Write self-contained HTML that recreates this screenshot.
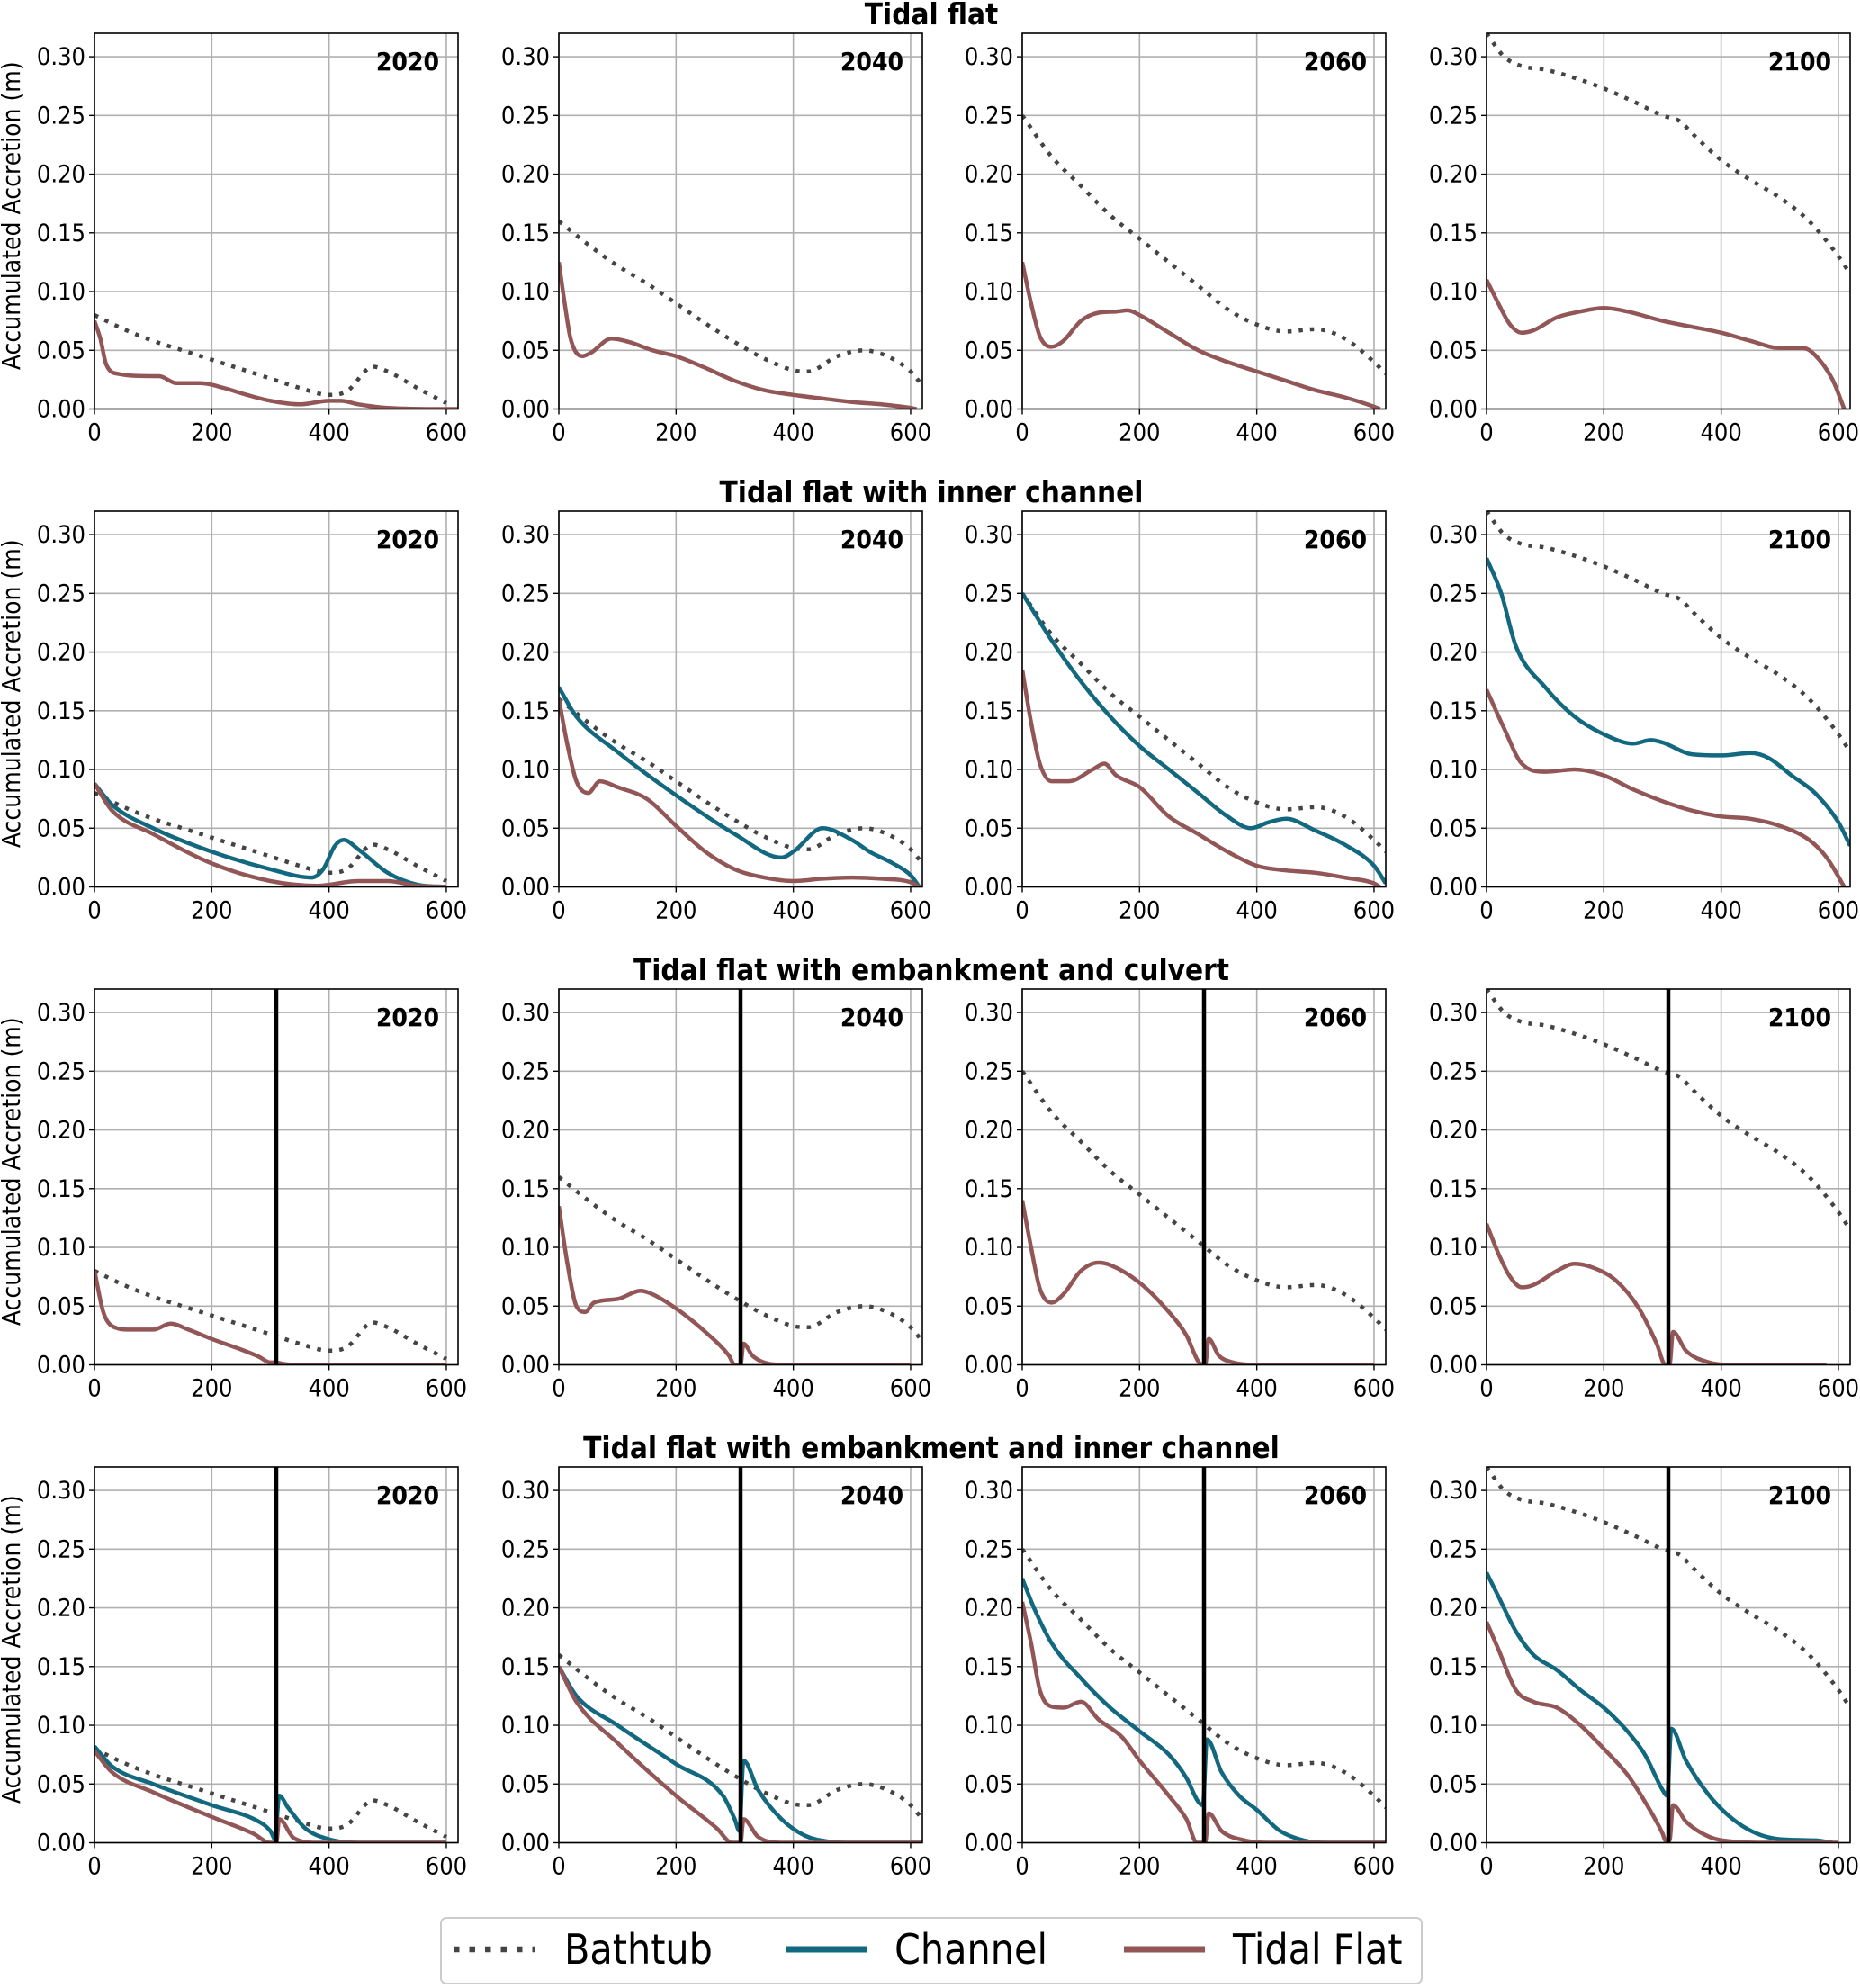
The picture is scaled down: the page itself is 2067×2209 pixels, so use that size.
<!DOCTYPE html>
<html><head><meta charset="utf-8">
<style>
html,body{margin:0;padding:0;background:#fff;}
svg{display:block;}
text{font-family:"DejaVu Sans Condensed","Liberation Sans Narrow","DejaVu Sans","Liberation Sans",sans-serif;}
</style></head>
<body>
<svg id="fig" width="2067" height="2209" viewBox="0 0 2067 2209" xmlns="http://www.w3.org/2000/svg"></svg>
<script>
// ---- data ----
const years = ["2020","2040","2060","2100"];
const rowTitles = ["Tidal flat","Tidal flat with inner channel","Tidal flat with embankment and culvert","Tidal flat with embankment and inner channel"];
const yTicks = [0,0.05,0.10,0.15,0.20,0.25,0.30];
const yTickLabels = ["0.00","0.05","0.10","0.15","0.20","0.25","0.30"];
const xTicks = [0,200,400,600];
const xTickLabels = ["0","200","400","600"];
const embankmentX = 310;

const bath2020 = [[0,0.08],[50,0.068],[100,0.058],[150,0.05],[200,0.042],[250,0.034],[300,0.026],[350,0.018],[400,0.012],[430,0.015],[475,0.036],[500,0.032],[550,0.018],[600,0.005]];
const bath2040 = [[0,0.16],[50,0.14],[100,0.122],[150,0.107],[200,0.09],[250,0.073],[300,0.057],[350,0.043],[400,0.033],[425,0.032],[475,0.045],[520,0.05],[560,0.045],[600,0.032],[620,0.02]];
const bath2060 = [[0,0.25],[50,0.215],[100,0.19],[150,0.165],[200,0.145],[250,0.125],[300,0.105],[350,0.085],[400,0.072],[450,0.066],[500,0.068],[550,0.06],[600,0.04],[620,0.03]];
const bath2100 = [[0,0.32],[30,0.3],[60,0.292],[100,0.289],[150,0.282],[200,0.273],[250,0.262],[300,0.25],[330,0.245],[350,0.235],[400,0.212],[450,0.195],[500,0.18],[550,0.16],[600,0.13],[620,0.115]];

const r1tf2020 = [[0,0.075],[10,0.06],[20,0.038],[40,0.03],[100,0.028],[110,0.028],[140,0.022],[180,0.022],[220,0.018],[260,0.012],[300,0.007],[350,0.004],[400,0.007],[420,0.007],[450,0.004],[500,0.001],[600,0],[620,0]];
const r1tf2040 = [[0,0.125],[10,0.09],[20,0.06],[40,0.045],[55,0.048],[90,0.06],[120,0.057],[160,0.05],[200,0.045],[250,0.035],[300,0.024],[350,0.016],[400,0.012],[450,0.009],[500,0.006],[550,0.004],[600,0.001],[610,0]];
const r1tf2060 = [[0,0.125],[15,0.09],[30,0.062],[50,0.053],[70,0.058],[100,0.075],[130,0.082],[160,0.083],[180,0.084],[200,0.08],[250,0.065],[300,0.05],[350,0.04],[400,0.032],[450,0.024],[500,0.016],[550,0.01],[600,0.002],[610,0]];
const r1tf2100 = [[0,0.11],[20,0.09],[40,0.072],[60,0.065],[80,0.067],[120,0.078],[160,0.083],[200,0.086],[240,0.083],[300,0.075],[350,0.07],[400,0.065],[450,0.058],[500,0.052],[540,0.052],[560,0.046],[590,0.025],[610,0]];

const r2ch2020 = [[0,0.088],[30,0.07],[100,0.05],[200,0.03],[300,0.015],[370,0.008],[390,0.015],[410,0.035],[425,0.04],[450,0.032],[500,0.012],[550,0.002],[600,0]];
const r2tf2020 = [[0,0.088],[30,0.065],[100,0.045],[200,0.02],[300,0.005],[380,0.001],[450,0.005],[500,0.005],[550,0.001],[600,0]];
const r2ch2040 = [[0,0.17],[30,0.145],[100,0.115],[200,0.078],[300,0.045],[380,0.025],[400,0.03],[450,0.05],[500,0.04],[530,0.03],[570,0.02],[600,0.01],[615,0]];
const r2tf2040 = [[0,0.16],[15,0.12],[30,0.09],[50,0.08],[70,0.09],[100,0.085],[150,0.075],[200,0.052],[250,0.03],[300,0.015],[350,0.008],[400,0.005],[450,0.007],[500,0.008],[550,0.007],[600,0.004],[615,0]];
const r2ch2060 = [[0,0.25],[50,0.21],[100,0.175],[150,0.145],[200,0.12],[250,0.1],[300,0.08],[350,0.06],[390,0.05],[420,0.055],[450,0.058],[500,0.048],[550,0.036],[600,0.018],[620,0.003]];
const r2tf2060 = [[0,0.185],[15,0.14],[30,0.105],[50,0.09],[80,0.09],[120,0.1],[140,0.105],[160,0.095],[200,0.085],[250,0.06],[300,0.045],[350,0.03],[400,0.018],[450,0.014],[500,0.012],[550,0.008],[600,0.003],[610,0]];
const r2ch2100 = [[0,0.28],[25,0.25],[50,0.205],[100,0.17],[150,0.145],[200,0.13],[250,0.122],[280,0.125],[300,0.123],[350,0.113],[400,0.112],[450,0.114],[480,0.11],[520,0.095],[560,0.08],[600,0.055],[620,0.035]];
const r2tf2100 = [[0,0.168],[30,0.135],[60,0.105],[100,0.098],[150,0.1],[200,0.095],[250,0.083],[300,0.073],[350,0.065],[400,0.06],[450,0.058],[500,0.052],[550,0.04],[580,0.025],[610,0]];

const r3tf2020 = [[0,0.08],[15,0.045],[30,0.033],[60,0.03],[100,0.03],[130,0.035],[160,0.03],[200,0.022],[250,0.013],[280,0.007],[300,0.002],[310,0.002],[320,0.001],[340,0],[600,0]];
const r3tf2040 = [[0,0.135],[15,0.085],[30,0.05],[45,0.045],[60,0.053],[100,0.056],[140,0.063],[160,0.06],[200,0.048],[250,0.028],[290,0.008],[300,0],[310,0],[315,0.018],[330,0.008],[350,0.002],[380,0],[600,0]];
const r3tf2060 = [[0,0.14],[15,0.1],[30,0.065],[50,0.053],[70,0.06],[100,0.08],[130,0.087],[150,0.085],[200,0.07],[250,0.045],[280,0.025],[300,0.003],[308,0],[312,0],[318,0.022],[335,0.008],[360,0.002],[400,0],[600,0]];
const r3tf2100 = [[0,0.12],[20,0.095],[40,0.075],[60,0.066],[80,0.068],[120,0.08],[150,0.086],[180,0.083],[220,0.072],[260,0.048],[290,0.018],[305,0],[312,0],[318,0.028],[340,0.012],[380,0.002],[420,0],[580,0]];

const r4ch2020 = [[0,0.082],[30,0.065],[100,0.05],[200,0.032],[280,0.018],[300,0.01],[308,0.003],[315,0.04],[330,0.03],[360,0.012],[400,0.003],[450,0],[600,0]];
const r4tf2020 = [[0,0.078],[30,0.06],[100,0.043],[200,0.022],[270,0.008],[300,0],[310,0],[315,0.02],[340,0.004],[380,0],[600,0]];
const r4ch2040 = [[0,0.15],[30,0.125],[100,0.1],[200,0.067],[280,0.04],[300,0.02],[308,0.01],[315,0.07],[340,0.045],[380,0.02],[420,0.006],[460,0.001],[500,0],[620,0]];
const r4tf2040 = [[0,0.15],[30,0.12],[100,0.085],[200,0.04],[270,0.012],[295,0],[310,0],[315,0.02],[340,0.005],[380,0],[620,0]];
const r4ch2060 = [[0,0.225],[20,0.2],[50,0.17],[100,0.14],[150,0.115],[200,0.095],[250,0.075],[280,0.055],[300,0.035],[308,0.032],[315,0.088],[340,0.06],[370,0.04],[400,0.028],[440,0.01],[480,0.002],[520,0],[620,0]];
const r4tf2060 = [[0,0.205],[15,0.17],[30,0.13],[50,0.116],[70,0.115],[100,0.12],[130,0.105],[170,0.09],[200,0.07],[250,0.04],[280,0.02],[298,0],[312,0],[318,0.025],[340,0.01],[380,0.002],[420,0],[620,0]];
const r4ch2100 = [[0,0.23],[20,0.21],[50,0.18],[80,0.16],[120,0.147],[160,0.13],[200,0.115],[240,0.095],[270,0.075],[300,0.045],[308,0.04],[315,0.097],[340,0.07],[380,0.04],[420,0.02],[460,0.008],[500,0.003],[560,0.002],[590,0]];
const r4tf2100 = [[0,0.188],[20,0.165],[50,0.13],[80,0.12],[120,0.115],[160,0.1],[200,0.08],[240,0.058],[270,0.035],[300,0.008],[305,0.002],[312,0.002],[318,0.032],[340,0.018],[380,0.005],[420,0.001],[480,0],[600,0]];

const bathtub = [bath2020,bath2040,bath2060,bath2100];
const channelRows = [null,[r2ch2020,r2ch2040,r2ch2060,r2ch2100],null,[r4ch2020,r4ch2040,r4ch2060,r4ch2100]];
const tidalRows = [[r1tf2020,r1tf2040,r1tf2060,r1tf2100],[r2tf2020,r2tf2040,r2tf2060,r2tf2100],[r3tf2020,r3tf2040,r3tf2060,r3tf2100],[r4tf2020,r4tf2040,r4tf2060,r4tf2100]];

// ---- layout ----
const NS="http://www.w3.org/2000/svg";
const svg=document.getElementById('fig');
const colLeft=[105,621,1136,1652], PW=404, PH=417.5;
const rowTop=[37,568,1099,1630];
const XMAX=620, YMAX=0.32;
const C_CH="#12687e", C_TF="#925657", C_BT="#444444";

function mk(tag,attrs,parent){const e=document.createElementNS(NS,tag);for(const k in attrs)e.setAttribute(k,attrs[k]);(parent||svg).appendChild(e);return e;}

function monoPath(pts,sx,sy){
  const n=pts.length,xs=pts.map(p=>p[0]),ys=pts.map(p=>p[1]);
  const d=[],m=[];
  for(let i=0;i<n-1;i++)d.push((ys[i+1]-ys[i])/(xs[i+1]-xs[i]));
  m[0]=d[0];m[n-1]=d[n-2];
  for(let i=1;i<n-1;i++){m[i]=(d[i-1]*d[i]<=0)?0:(d[i-1]+d[i])/2;}
  for(let i=0;i<n-1;i++){if(d[i]===0){m[i]=0;m[i+1]=0;continue;}const a=m[i]/d[i],b=m[i+1]/d[i],s=a*a+b*b;if(s>9){const t=3/Math.sqrt(s);m[i]=t*a*d[i];m[i+1]=t*b*d[i];}}
  let s="M"+sx(xs[0]).toFixed(1)+","+sy(ys[0]).toFixed(1);
  for(let i=0;i<n-1;i++){const h=xs[i+1]-xs[i];
    s+=" C"+sx(xs[i]+h/3).toFixed(1)+","+sy(ys[i]+m[i]*h/3).toFixed(1)+" "+sx(xs[i+1]-h/3).toFixed(1)+","+sy(ys[i+1]-m[i+1]*h/3).toFixed(1)+" "+sx(xs[i+1]).toFixed(1)+","+sy(ys[i+1]).toFixed(1);}
  return s;
}

for(let r=0;r<4;r++){
  const t=mk('text',{x:1035,y:rowTop[r]-10,'text-anchor':'middle','font-size':33,'font-weight':'bold'});
  t.textContent=rowTitles[r];
  
  
  for(let c=0;c<4;c++){
    const L=colLeft[c],T=rowTop[r];
    const sx=v=>L+v/XMAX*PW, sy=v=>T+PH-v/YMAX*PH;
    const g=mk('g',{});
    
    
    const cp=mk('clipPath',{id:'cp'+r+c},g);mk('rect',{x:L,y:T,width:PW,height:PH},cp);
    yTicks.forEach((v,i)=>{
      const gl=mk('line',{x1:L,x2:L+PW,y1:sy(v),y2:sy(v),stroke:'#b0b0b0','stroke-width':1.6},g);
      
      mk('line',{x1:L-6,x2:L,y1:sy(v),y2:sy(v),stroke:'#000','stroke-width':1.4},g);
      const tl=mk('text',{x:L-10,y:sy(v)+9,'text-anchor':'end','font-size':27},g);tl.textContent=yTickLabels[i];
      
    });
    xTicks.forEach((v,i)=>{
      const gl=mk('line',{x1:sx(v),x2:sx(v),y1:T,y2:T+PH,stroke:'#b0b0b0','stroke-width':1.6},g);
      
      mk('line',{x1:sx(v),x2:sx(v),y1:T+PH,y2:T+PH+6,stroke:'#000','stroke-width':1.4},g);
      const tl=mk('text',{x:sx(v),y:T+PH+35,'text-anchor':'middle','font-size':27},g);tl.textContent=xTickLabels[i];
      
    });
    const cg=mk('g',{'clip-path':'url(#cp'+r+c+')'},g);
    const bt=mk('path',{d:monoPath(bathtub[c],sx,sy),fill:'none',stroke:C_BT,'stroke-width':4.5,'stroke-dasharray':'4.5 8'},cg);
    
    if(channelRows[r]){
      const ch=mk('path',{d:monoPath(channelRows[r][c],sx,sy),fill:'none',stroke:C_CH,'stroke-width':4.5},cg);
      
    }
    const tf=mk('path',{d:monoPath(tidalRows[r][c],sx,sy),fill:'none',stroke:C_TF,'stroke-width':4.5},cg);
    
    if(r>=2){
      const em=mk('line',{x1:sx(embankmentX),x2:sx(embankmentX),y1:T,y2:T+PH,stroke:'#000','stroke-width':4.5},g);
      
    }
    const fr=mk('rect',{x:L,y:T,width:PW,height:PH,fill:'none',stroke:'#000','stroke-width':1.6},g);
    
    const yl=mk('text',{x:L+PW-21,y:T+41,'text-anchor':'end','font-size':28,'font-weight':'bold'},g);yl.textContent=years[c];
    
    if(c===0){
      const cy=T+PH/2-6;
      const at=mk('text',{x:0,y:0,'text-anchor':'middle','font-size':28,transform:'translate(22,'+cy+') rotate(-90)'},g);
      at.textContent='Accumulated Accretion (m)';
      
    }
  }
}
// legend
const lg=mk('g',{});

mk('rect',{x:490,y:2131,width:1090,height:73,rx:6,fill:'#fff',stroke:'#cccccc','stroke-width':2},lg);
const items=[["Bathtub",C_BT,'4.5 8',504,627],["Channel",C_CH,'',873,994],["Tidal Flat",C_TF,'',1249,1370]];
items.forEach(it=>{
  const e=mk('g',{},lg);
  
  
  const a={x1:it[3],x2:it[3]+90,y1:2166,y2:2166,stroke:it[1],'stroke-width':it[2]?6.5:7};
  if(it[2])a['stroke-dasharray']='6.5 11';
  mk('line',a,e);
  const t=mk('text',{x:it[4],y:2182,'font-size':46},e);t.textContent=it[0];
});
</script>
</body></html>
